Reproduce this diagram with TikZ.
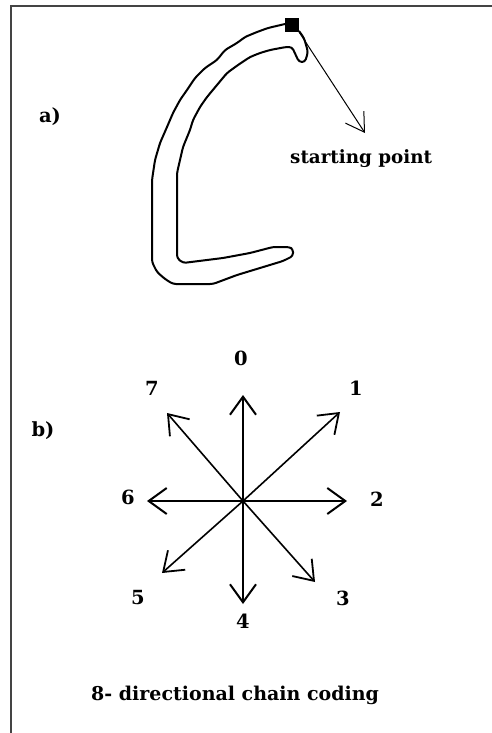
\documentclass[tikz,border=0pt]{standalone}
\usepackage{fontspec}
\setmainfont{DejaVu Serif}
\usetikzlibrary{arrows.meta}
\definecolor{framegray}{RGB}{68,68,68}
\begin{document}
\begin{tikzpicture}[x=1pt,y=-1pt,
  lbl/.style={font=\bfseries\fontsize{19.5}{21}\selectfont, inner sep=0pt},
  txt/.style={font=\bfseries\fontsize{18.3}{20}\selectfont, inner sep=0pt},
  captxt/.style={font=\bfseries\fontsize{19}{21}\selectfont, inner sep=0pt},
  framel/.style={draw=framegray, line width=2.5pt},
  outline/.style={draw=black, line width=2pt, line join=round, rounded corners=3pt},
  dirarrow/.style={draw=black, line width=2pt, -{Straight Barb[length=18pt,width=26pt,line width=2pt]}},
  diagarrow/.style={draw=black, line width=1.6pt, -{Straight Barb[length=18pt,width=26pt,line width=1.8pt]}},
  ptrarrow/.style={draw=black, line width=1pt, -{Straight Barb[length=18pt,width=22pt,line width=1pt]}},
  startsq/.style={fill=black, draw=none, minimum size=14pt, inner sep=0pt}]
\useasboundingbox (0,0) rectangle (491,733);
% frame
\coordinate (fbl) at (11,734);
\coordinate (ftl) at (11,6);
\coordinate (ftr) at (492,6);
\draw[framel] (fbl) -- (ftl) -- (ftr);

% a) the contour
\node[lbl] (la) at (50,117) {a)};
\draw[outline] (285,24) -- (268,28) -- (257,32) -- (245,37) -- (237,43) -- (225,50)
  -- (217,60) -- (205,68) -- (195,78) -- (187,90) -- (180,100) -- (173,113)
  -- (167,127) -- (160,143) -- (155,160) -- (152,180) -- (152,262) -- (157,272)
  -- (165,279) -- (173,284) -- (213,284) -- (237,275) -- (260,268) -- (283,261)
  -- (293,256) -- (293,249) -- (289,247) -- (273,247) -- (250,253) -- (223,258)
  -- (183,263) -- (177,258) -- (177,173) -- (183,147) -- (190,130) -- (193,120)
  -- (200,107) -- (207,97) -- (217,85) -- (227,73) -- (238,65) -- (250,57)
  -- (260,53) -- (270,50) -- (286,47) -- (292,47) -- (299,62) -- (305,62)
  -- (308,52) -- (304,38) -- (299,31);
\node[startsq] (start) at (292,25) {};
\coordinate (sptip) at (365,133);
\draw[ptrarrow] (start.south east) -- (sptip);
\node[txt, anchor=base west] (sp) at (290,163) {starting point};

% b) directions
\node[lbl] (lb) at (43,431) {b)};
\coordinate (c) at (243,501);
\coordinate (d0) at (243,395);
\coordinate (d1) at (340,412);
\coordinate (d2) at (347,501);
\coordinate (d3) at (315,582);
\coordinate (d4) at (243,604);
\coordinate (d5) at (162,573);
\coordinate (d6) at (147,501);
\coordinate (d7) at (167,413);
\draw[dirarrow] (c) -- (d0);
\draw[dirarrow] (c) -- (d2);
\draw[dirarrow] (c) -- (d4);
\draw[dirarrow] (c) -- (d6);
\draw[diagarrow] (c) -- (d1);
\draw[diagarrow] (c) -- (d3);
\draw[diagarrow] (c) -- (d5);
\draw[diagarrow] (c) -- (d7);
\node[lbl] (n0) at (241,358) {0};
\node[lbl] (n1) at (356,388) {1};
\node[lbl] (n2) at (377,499) {2};
\node[lbl] (n3) at (343,598) {3};
\node[lbl] (n4) at (243,621) {4};
\node[lbl] (n5) at (138,598) {5};
\node[lbl] (n6) at (128,497) {6};
\node[lbl] (n7) at (152,388) {7};

\node[captxt, anchor=base west] (cap) at (91,700) {8- directional chain coding};
\end{tikzpicture}
\end{document}
